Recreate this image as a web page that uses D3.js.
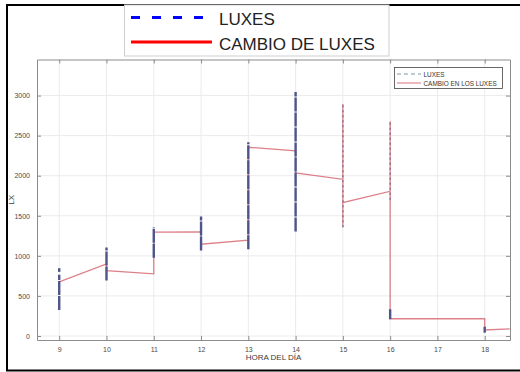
<!DOCTYPE html>
<html>
<head>
<meta charset="utf-8">
<script src="https://cdn.jsdelivr.net/npm/d3@7"></script>
<style>
  html, body { margin: 0; padding: 0; background: #fff; }
  svg { display: block; font-family: "Liberation Sans", Arial, sans-serif; }
</style>
</head>
<body>
<svg id="chart" width="520" height="372"></svg>
<script>
// Hourly light readings (lx): range of samples recorded at each hour
const denseHour = [9, 9, 10, 11, 12, 13, 14, 16, 18];
const denseMin  = [325, 800, 691, 975, 1066, 1083, 1304, 210, 41];
const denseMax  = [765, 846, 1104, 1358, 1492, 2417, 3046, 334, 116];
// Hours where the readings are sparse
const sparseHour = [15, 16];
const sparseMin  = [1358, 1700];
const sparseMax  = [2896, 2680];
// Change in illuminance between readings
const changeHour = [9, 10, 10, 11, 11, 12, 12, 13, 13, 14, 14, 15, 15, 15, 15, 16, 16, 16, 18, 18, 18.53];
const changeLux  = [675, 900, 815, 775, 1295, 1300, 1145, 1195, 2355, 2310, 2035, 1955, 2896, 1358, 1665, 1805, 2680, 215, 215, 75, 88];
const xTicks = [9, 10, 11, 12, 13, 14, 15, 16, 17, 18];
const yTicks = [0, 500, 1000, 1500, 2000, 2500, 3000];

const svg = d3.select("#chart");
const mLeft = 37, mRight = 510, mTop = 59.5, mBottom = 340;
const x = d3.scaleLinear().domain([8.53, 18.535]).range([mLeft, mRight]);
const y = d3.scaleLinear().domain([-50, 3450]).range([mBottom, mTop]);

// outer frame
svg.append("line").attr("x1", 6).attr("x2", 520).attr("y1", 5).attr("y2", 5)
  .attr("stroke", "#000").attr("stroke-width", 2);
svg.append("line").attr("x1", 7).attr("x2", 7).attr("y1", 4).attr("y2", 371)
  .attr("stroke", "#000").attr("stroke-width", 2);
svg.append("line").attr("x1", 6).attr("x2", 520).attr("y1", 370.5).attr("y2", 370.5)
  .attr("stroke", "#000").attr("stroke-width", 2);

// plot background
svg.append("rect").attr("x", mLeft).attr("y", mTop).attr("width", mRight - mLeft).attr("height", mBottom - mTop)
  .attr("fill", "#fff");

// grid
const grid = svg.append("g").attr("stroke", "#ebebeb").attr("stroke-width", 1);
grid.selectAll(".gx").data(xTicks).join("line")
  .attr("x1", d => x(d)).attr("x2", d => x(d)).attr("y1", mTop).attr("y2", mBottom);
grid.selectAll(".gy").data(yTicks).join("line")
  .attr("x1", mLeft).attr("x2", mRight).attr("y1", d => y(d)).attr("y2", d => y(d));

// axes (ticks pointing inward, box on all sides)
const axisColor = "#8c8c8c";
function styleAxis(g) {
  g.select(".domain").attr("stroke", axisColor);
  g.selectAll(".tick line").attr("stroke", axisColor);
  g.selectAll(".tick text").attr("fill", "#4a4a4a").attr("font-size", 7);
}
svg.append("g").attr("transform", `translate(0,${mBottom})`)
  .call(d3.axisBottom(x).tickValues(xTicks).tickFormat(d3.format("d")).tickSize(-4).tickPadding(7).tickSizeOuter(0))
  .call(styleAxis);
svg.append("g").attr("transform", `translate(0,${mTop})`)
  .call(d3.axisTop(x).tickValues(xTicks).tickSize(-4).tickFormat("").tickSizeOuter(0))
  .call(styleAxis);
svg.append("g").attr("transform", `translate(${mLeft},0)`)
  .call(d3.axisLeft(y).tickValues(yTicks).tickFormat(d3.format("d")).tickSize(-4).tickPadding(7).tickSizeOuter(0))
  .call(styleAxis);
svg.append("g").attr("transform", `translate(${mRight},0)`)
  .call(d3.axisRight(y).tickValues(yTicks).tickSize(-4).tickFormat("").tickSizeOuter(0))
  .call(styleAxis);

// change line
const changePts = changeHour.map((h, i) => [h, changeLux[i]]);
svg.append("path")
  .attr("d", d3.line().x(d => x(d[0])).y(d => y(d[1]))(changePts))
  .attr("fill", "none").attr("stroke", "#dd8088").attr("stroke-width", 1.3);

// sparse readings
svg.append("g").selectAll("line").data(sparseHour).join("line")
  .attr("x1", d => x(d)).attr("x2", d => x(d))
  .attr("y1", (d, i) => y(sparseMin[i])).attr("y2", (d, i) => y(sparseMax[i]))
  .attr("stroke", "#6b5d80").attr("stroke-width", 1.4).attr("stroke-dasharray", "2,3").attr("opacity", 0.75);

// dense readings
svg.append("g").selectAll("line").data(denseHour).join("line")
  .attr("x1", d => x(d)).attr("x2", d => x(d))
  .attr("y1", (d, i) => y(denseMin[i])).attr("y2", (d, i) => y(denseMax[i]))
  .attr("stroke", "#4f5588").attr("stroke-width", 2.4).attr("stroke-dasharray", "14,1");

// axis titles
svg.append("text").attr("x", (mLeft + mRight) / 2).attr("y", 360).attr("text-anchor", "middle")
  .attr("font-size", 8).attr("fill", "#3a3a3a").text("HORA DEL DÍA");
svg.append("text").attr("transform", `translate(14,${(mTop + mBottom) / 2}) rotate(-90)`)
  .attr("text-anchor", "middle").attr("font-size", 8).attr("fill", "#3a3a3a").text("LX");

// inner legend
const il = svg.append("g");
il.append("rect").attr("x", 394.5).attr("y", 67.5).attr("width", 108).attr("height", 21)
  .attr("fill", "#fff").attr("stroke", "#444").attr("stroke-width", 0.8);
il.append("line").attr("x1", 397).attr("x2", 421).attr("y1", 74).attr("y2", 74)
  .attr("stroke", "#7a9aa6").attr("stroke-width", 1).attr("stroke-dasharray", "4,3");
il.append("line").attr("x1", 397).attr("x2", 421).attr("y1", 83).attr("y2", 83)
  .attr("stroke", "#dd7f88").attr("stroke-width", 1.1);
il.append("text").attr("x", 423.5).attr("y", 76.5).attr("font-size", 6.4).attr("fill", "#333").text("LUXES");
il.append("text").attr("x", 423.5).attr("y", 85.5).attr("font-size", 6.4).attr("fill", "#333").text("CAMBIO EN LOS LUXES");

// top legend
const tl = svg.append("g");
tl.append("rect").attr("x", 124.5).attr("y", 5).attr("width", 264.5).attr("height", 51)
  .attr("fill", "#fff").attr("stroke", "#cfcfcf").attr("stroke-width", 1);
tl.append("line").attr("x1", 131).attr("x2", 205).attr("y1", 17.5).attr("y2", 17.5)
  .attr("stroke", "#0000ff").attr("stroke-width", 3).attr("stroke-dasharray", "9,12");
tl.append("line").attr("x1", 131).attr("x2", 212).attr("y1", 42).attr("y2", 42)
  .attr("stroke", "#ff0000").attr("stroke-width", 3);
tl.append("text").attr("x", 219).attr("y", 25).attr("font-size", 17).attr("fill", "#222").text("LUXES");
tl.append("text").attr("x", 219).attr("y", 50).attr("font-size", 17).attr("fill", "#222").text("CAMBIO DE LUXES");
</script>
</body>
</html>
